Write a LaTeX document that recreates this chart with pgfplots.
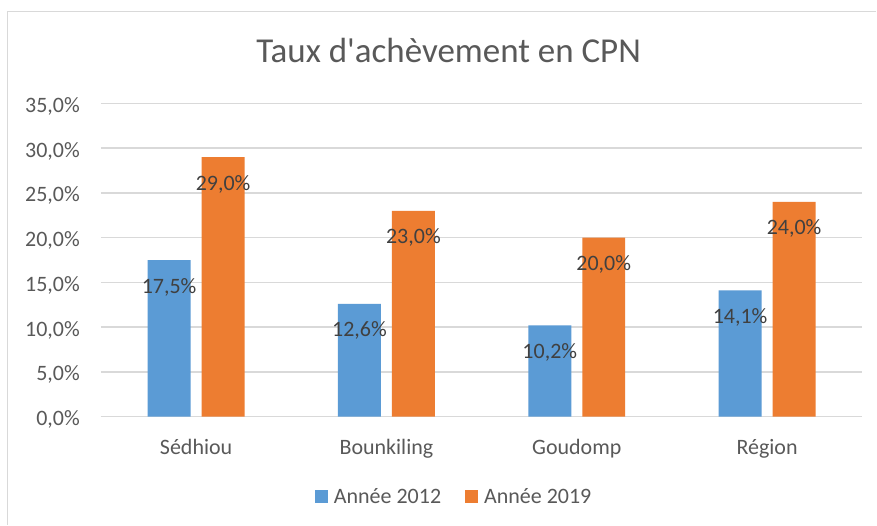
\documentclass[border=0pt]{standalone}
\usepackage{pgfplots}
\pgfplotsset{compat=1.18}
\usepackage{fontspec}
\setmainfont{Carlito}
\definecolor{cblue}{HTML}{5B9BD5}
\definecolor{corange}{HTML}{ED7D31}
\definecolor{cgrid}{HTML}{D9D9D9}
\definecolor{ctext}{HTML}{595959}
\definecolor{clabel}{HTML}{404040}
\begin{document}
\begin{tikzpicture}
\fill[white] (0pt,0pt) rectangle (877pt,525pt);
\draw[cgrid, line width=1.5pt] (7.5pt,0pt) -- (7.5pt,513.5pt) -- (877pt,513.5pt);
\node[anchor=base, font=\fontsize{35}{40}\selectfont, text=ctext, inner sep=0pt] at (449pt,462pt) {Taux d\textquotesingle ach\`evement en CPN};
\begin{axis}[
  at={(101pt,108pt)}, anchor=south west,
  scale only axis, width=762pt, height=313.5pt,
  xmin=-0.5, xmax=3.5, ymin=0, ymax=35,
  enlarge x limits=false,
  ybar=11pt, bar width=43pt,
  axis lines*=left,
  y axis line style={draw=none},
  x axis line style={cgrid, line width=1.5pt},
  ymajorgrids, grid style={cgrid, line width=1.5pt},
  major tick length=0pt,
  xtick={0,1,2,3},
  xticklabels={Sédhiou,Bounkiling,Goudomp,Région},
  ytick={0,5,...,35},
  /pgf/number format/assume math mode=true,
  yticklabel={\pgfmathprintnumber[fixed,fixed zerofill,precision=1,use comma]{\tick}\%},
  every tick label/.append style={font=\fontsize{22}{26}\selectfont, text=ctext, inner sep=0pt},
  yticklabel style={anchor=base east, xshift=-21pt, yshift=-9pt},
  xticklabel style={anchor=base, yshift=-38pt},
  nodes near coords={\pgfmathprintnumber[fixed,fixed zerofill,precision=1,use comma]{\pgfplotspointmeta}\%},
  every node near coord/.append style={font=\fontsize{22}{26}\selectfont, text=clabel, inner sep=0pt, anchor=base, yshift=-33pt},
  legend columns=2,
  legend style={draw=none, fill=none, at={(0.4626,-0.255)}, anchor=center,
    font=\fontsize{22}{26}\selectfont, text=ctext,
    nodes={inner sep=0pt}, column sep=6pt,
    /tikz/every even column/.append style={column sep=24pt}},
  legend cell align=left,
  legend image code/.code={\fill[#1] (0pt,-6.5pt) rectangle (13pt,6.5pt);},
]
\addplot[fill=cblue, draw=none] coordinates {(0,17.5) (1,12.6) (2,10.2) (3,14.1)};
\addplot[fill=corange, draw=none] coordinates {(0,29.0) (1,23.0) (2,20.0) (3,24.0)};
\legend{Année 2012, Année 2019}
\end{axis}
\end{tikzpicture}
\end{document}
